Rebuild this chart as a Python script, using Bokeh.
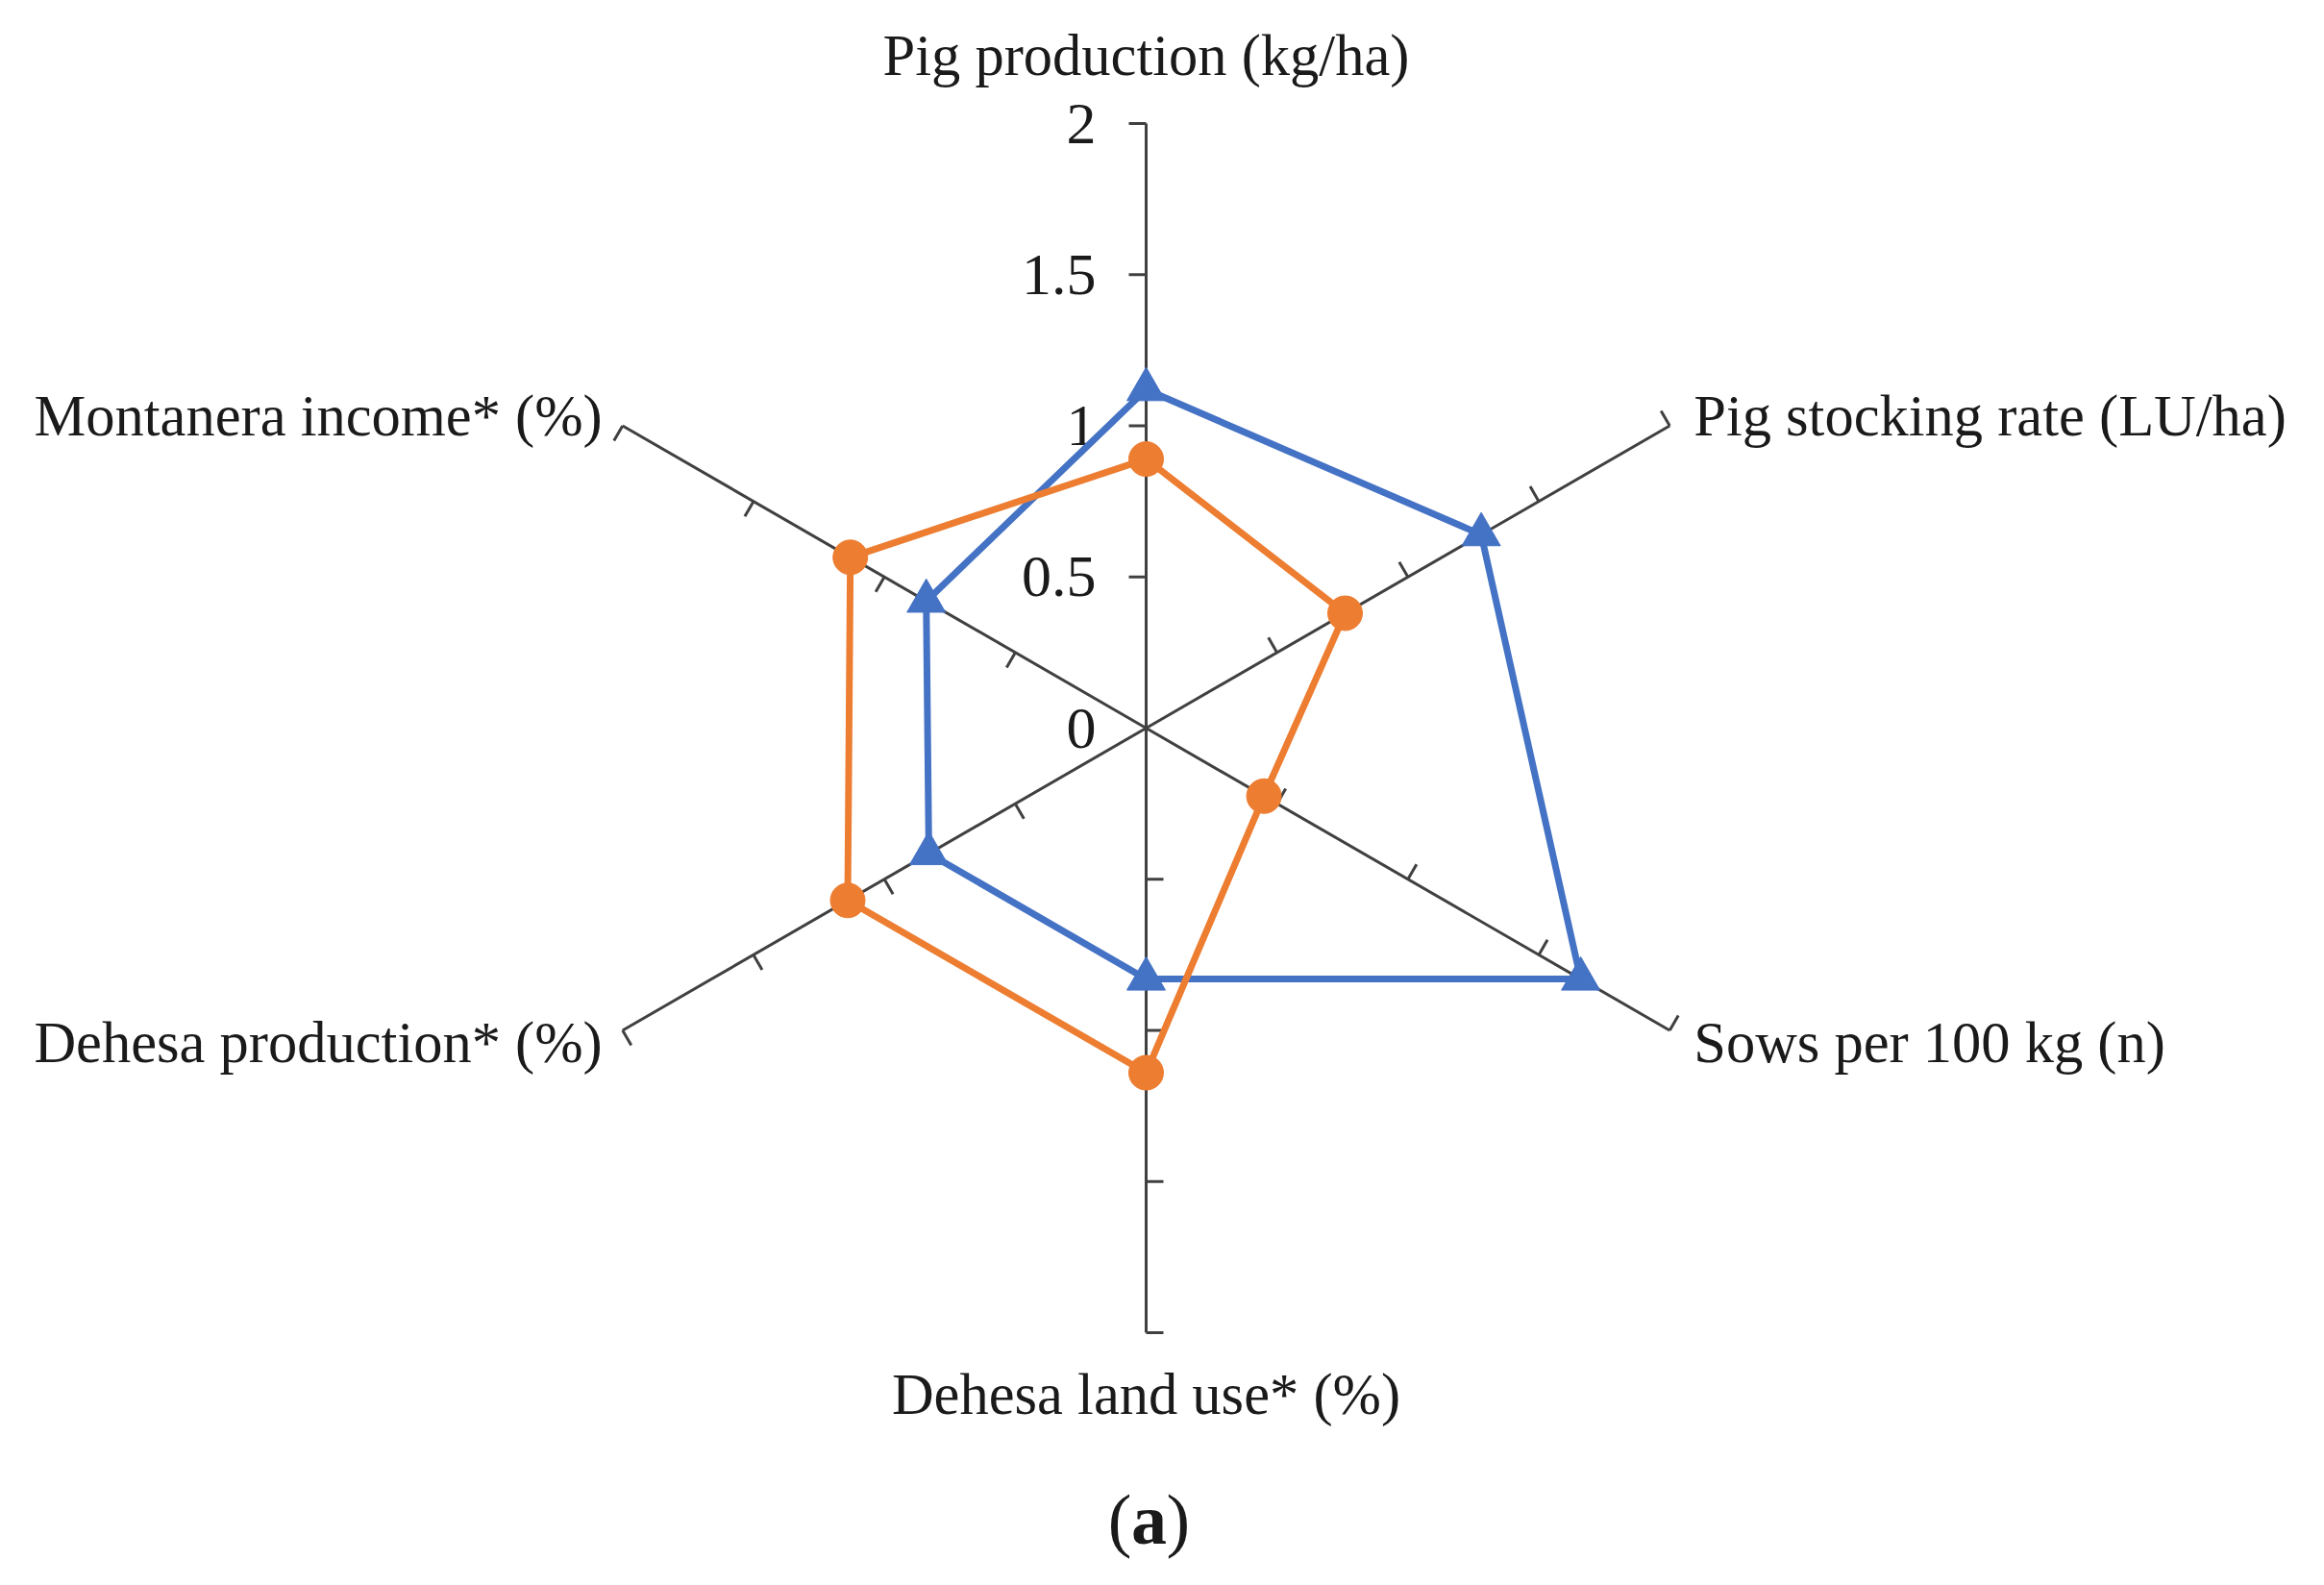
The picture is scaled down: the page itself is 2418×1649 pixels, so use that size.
import math
from bokeh.plotting import figure
from bokeh.models import Range1d
from bokeh.core.properties import value
from bokeh.embed import file_html
from bokeh.resources import INLINE

# ---- data ----
categories = ["Pig production (kg/ha)", "Pig stocking rate (LU/ha)", "Sows per 100 kg (n)",
              "Dehesa land use* (%)", "Dehesa production* (%)", "Montanera income* (%)"]
series_blue = [1.12, 1.28, 1.66, 0.83, 0.83, 0.84]
series_orange = [0.89, 0.76, 0.45, 1.14, 1.14, 1.13]
tick_values = [0, 0.5, 1, 1.5, 2]
tick_labels = ["0", "0.5", "1", "1.5", "2"]
panel_label = "a"

# ---- layout ----
W, H = 2400, 1630
S = 314.5                 # pixels per unit
CX, CY = 1200, 765        # centre position (layout)
RMAX = 2.0
FONT = "Liberation Serif"
FS = "60.5px"
AXIS_COLOR = "#404040"
BLUE = "#4472C4"
ORANGE = "#ED7D31"

p = figure(width=W, height=H, output_backend="svg", toolbar_location=None,
           x_range=Range1d((8 - CX) / S, (8 + W - CX) / S),
           y_range=Range1d((CY - (8 + H)) / S, (CY - 8) / S),
           min_border=0)
p.axis.visible = False
p.grid.visible = False
p.outline_line_color = None
p.background_fill_color = "white"
p.border_fill_color = "white"

n = len(categories)
angles = [math.radians(90 - 360 * i / n) for i in range(n)]

# axes
p.segment(x0=[0] * n, y0=[0] * n,
          x1=[RMAX * math.cos(a) for a in angles], y1=[RMAX * math.sin(a) for a in angles],
          line_color=AXIS_COLOR, line_width=3)

# tick marks (perpendicular, counter-clockwise side)
L = 18 / S
tx0, ty0, tx1, ty1 = [], [], [], []
for a in angles:
    for v in tick_values[1:]:
        bx, by = v * math.cos(a), v * math.sin(a)
        tx0.append(bx); ty0.append(by)
        tx1.append(bx - L * math.sin(a)); ty1.append(by + L * math.cos(a))
p.segment(x0=tx0, y0=ty0, x1=tx1, y1=ty1, line_color=AXIS_COLOR, line_width=3)

# tick labels on the first axis
p.text(x=[-52 / S] * len(tick_values), y=tick_values, text=tick_labels,
       text_font=value(FONT), text_font_size="62px", text_color="#1a1a1a",
       text_align="right", text_baseline="middle")

# series
def draw(vals, color, marker, size):
    xs = [v * math.cos(a) for v, a in zip(vals, angles)]
    ys = [v * math.sin(a) for v, a in zip(vals, angles)]
    p.line(xs + xs[:1], ys + ys[:1], line_color=color, line_width=7, line_join="round")
    p.scatter(xs, ys, marker=marker, size=size, fill_color=color, line_color=color)

draw(series_blue, BLUE, "triangle", 40)
draw(series_orange, ORANGE, "circle", 36)

# category labels
offsets = [(0, -71, "center"), (25, -11, "left"), (25, 12, "left"),
           (0, 64, "center"), (-21, 12, "right"), (-21, -11, "right")]
for cat, a, (dx, dy, al) in zip(categories, angles, offsets):
    ex, ey = RMAX * math.cos(a), RMAX * math.sin(a)
    p.text(x=[ex + dx / S], y=[ey - dy / S], text=[cat],
           text_font=value(FONT), text_font_size=FS, text_color="#1a1a1a",
           text_align=al, text_baseline="middle")

# panel label "(a)"
px, py = (1195 + 8 - CX) / S, (CY - 1584 - 4) / S
p.text(x=[px - 18 / S], y=[py], text=["("], text_font=value(FONT), text_font_size="74px",
       text_color="#1a1a1a", text_align="right", text_baseline="middle")
p.text(x=[px], y=[py], text=[panel_label], text_font=value(FONT), text_font_size="74px",
       text_font_style="bold", text_color="#1a1a1a", text_align="center", text_baseline="middle")
p.text(x=[px + 18 / S], y=[py], text=[")"], text_font=value(FONT), text_font_size="74px",
       text_color="#1a1a1a", text_align="left", text_baseline="middle")

open("out.html", "w").write(file_html(p, INLINE))
